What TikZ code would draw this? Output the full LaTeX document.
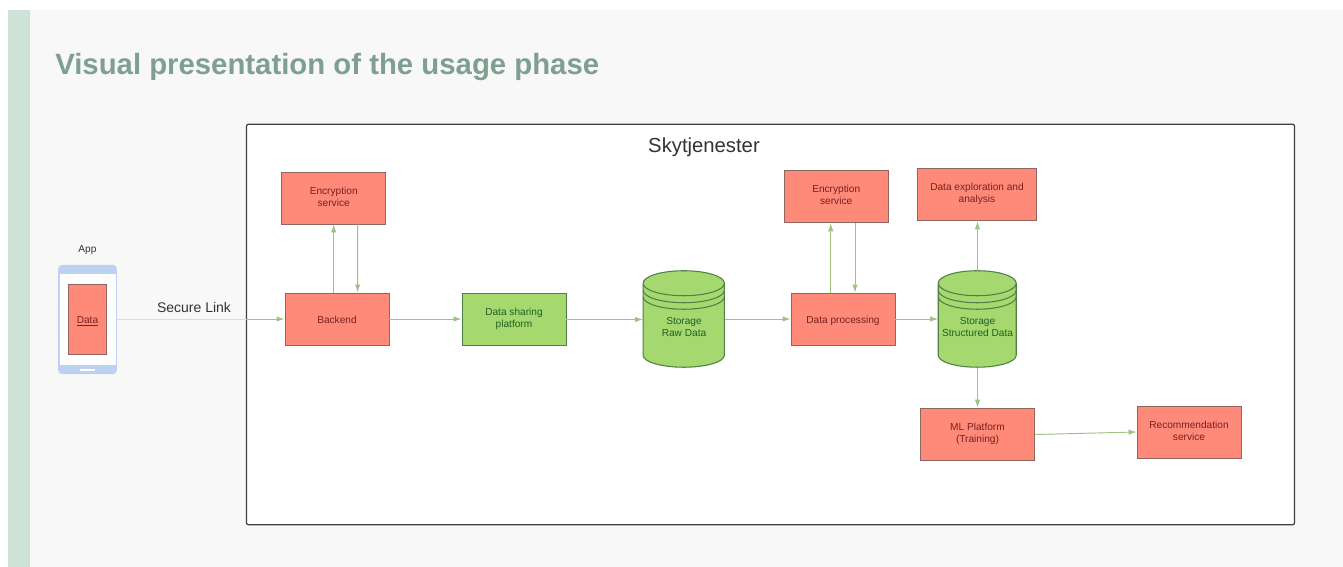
\documentclass[tikz,border=0pt]{standalone}
\usepackage{fontspec}
\setmainfont{Liberation Sans}
\usepackage{tikz}
\usetikzlibrary{arrows.meta}
\definecolor{barcol}{HTML}{CFE2D8}
\definecolor{panelcol}{HTML}{F8F8F8}
\definecolor{titlecol}{HTML}{7F9F91}
\definecolor{redfill}{HTML}{FF8A7A}
\definecolor{redline}{HTML}{8E6660}
\definecolor{redtext}{HTML}{7A1E1E}
\definecolor{greenfill}{HTML}{A5D86F}
\definecolor{greenline}{HTML}{4F8047}
\definecolor{greentext}{HTML}{1F5F24}
\definecolor{flowcol}{HTML}{9BC382}
\definecolor{flowfaint}{HTML}{D3E5C8}
\definecolor{phonecol}{HTML}{BDD2F0}
\tikzset{
  boxtext/.style={font=\fontsize{7.6}{9}\selectfont,align=center,inner sep=0pt,
    execute at begin node={\rule{0pt}{9pt}},execute at end node={\rule[-2.1pt]{0pt}{0pt}}},
  twoline/.style={execute at begin node={\vspace*{3pt}}},
  redbox/.style={boxtext,draw=redline,fill=redfill,line width=0.7pt,text=redtext},
  greenbox/.style={boxtext,draw=greenline,fill=greenfill,line width=0.7pt,text=greentext},
  storagedb/.style={inner sep=0pt,minimum width=#1,minimum height=72pt},
  storagetext/.style={text=greentext,font=\fontsize{7.6}{9}\selectfont,align=center},
  flow/.style={draw=flowcol,line width=0.7pt,-{Latex[length=6pt,width=4pt]}},
  plaintext/.style={text=black!80,inner sep=0pt}
}
% one storage drum: body, then the two rings under the lid
\newcommand{\drawstorage}[2]{
\filldraw[draw=greenline,fill=greenfill,line width=0.8pt] (#1.north west) ++(0,12.5) coordinate (#1lid)
  arc[start angle=180,end angle=0,x radius=#2,y radius=12.5]
  arc[start angle=0,end angle=-180,x radius=#2,y radius=12.5]
  -- ++(0,72) arc[start angle=180,end angle=0,x radius=#2,y radius=12] -- ++(0,-72);
\draw[greenline,line width=0.8pt] (#1lid) ++(0,7) arc[start angle=180,end angle=0,x radius=#2,y radius=12.5];
\draw[greenline,line width=0.8pt] (#1lid) ++(0,13.5) arc[start angle=180,end angle=0,x radius=#2,y radius=12.5];
}
\begin{document}
\begin{tikzpicture}[x=0.75pt,y=-0.75pt]
\useasboundingbox (0,0) rectangle (1343,567);
\fill[white] (0,0) rectangle (1343,567);
\fill[panelcol] (30,10) rectangle (1343,567);
\fill[barcol] (8,10) rectangle (30,567);
\node[anchor=base west,text=titlecol,inner sep=0pt,font=\fontsize{22}{26}\bfseries\selectfont] (title) at (55,75) {Visual presentation of the usage phase};
% cloud frame
\node[draw=black!75,fill=white,line width=0.9pt,rounded corners=1.5pt,minimum width=786pt,minimum height=300.5pt,inner sep=0pt] (cloud) at (770.5,324.5) {};
\node[plaintext,font=\fontsize{15.2}{18}\selectfont] (cloudname) at (704,147) {Skytjenester};
% phone
\node[draw=none,fill=phonecol,rounded corners=3pt,minimum width=44pt,minimum height=82pt,inner sep=0pt] (phone) at (87.5,319.5) {};
\node[fill=white,minimum width=42pt,minimum height=68pt,inner sep=0pt] (screen) at (87.5,319.5) {};
\node[fill=white,minimum width=11pt,minimum height=1.5pt,inner sep=0pt] (homekey) at (87.5,370) {};
\node[redbox,minimum width=29pt,minimum height=52.5pt] (data) at (87.5,319) {\underline{Data}};
\node[plaintext,font=\fontsize{7.6}{9}\selectfont] (app) at (87.5,250) {App};
\node[plaintext,font=\fontsize{10.5}{13}\selectfont] (link) at (194,307) {Secure Link};
% services
\node[redbox,twoline,minimum width=78pt,minimum height=39pt] (crypta) at (333.7,198) {Encryption\\service};
\node[redbox,minimum width=78pt,minimum height=39pt] (backend) at (337,319) {Backend};
\node[greenbox,twoline,minimum width=78pt,minimum height=39.5pt] (sharing) at (514,319.5) {Data sharing\\platform};
\node[storagedb=61pt] (rawdb) at (684,319) {};
\node[redbox,minimum width=78pt,minimum height=39pt] (process) at (843,319) {Data processing};
\node[redbox,twoline,minimum width=78pt,minimum height=39.5pt] (cryptb) at (836.2,196.5) {Encryption\\service};
\node[redbox,twoline,minimum width=89pt,minimum height=39.5pt] (explore) at (977,194.5) {Data exploration and\\analysis};
\node[storagedb=58.5pt] (structdb) at (977.5,319) {};
\node[redbox,twoline,minimum width=86pt,minimum height=39.5pt] (mlplat) at (977.5,434.5) {ML Platform\\(Training)};
\node[redbox,twoline,minimum width=78pt,minimum height=39pt] (recommend) at (1189,432) {Recommendation\\service};
\drawstorage{rawdb}{40.67}
\drawstorage{structdb}{39}
\node[storagetext] (rawname) at (684,327) {Storage\\Raw Data};
\node[storagetext] (structname) at (977.5,327) {Storage\\Structured Data};
% connectors
\draw[draw=flowfaint,line width=0.7pt] (phone.east |- backend.west) -- (cloud.west |- backend.west);
\draw[flow] (cloud.west |- backend.west) -- (backend.west);
\draw[flow] (crypta.south |- backend.north) -- (crypta.south);
\draw[flow] ([xshift=18pt]crypta.south) -- ([xshift=15.5pt]backend.north);
\draw[flow] (backend.east) -- (sharing.west |- backend.east);
\draw[flow] (sharing.east) -- (rawdb.west |- sharing.east);
\draw[flow] (rawdb.east |- process.west) -- (process.west);
\draw[flow] ([xshift=-4.1pt]cryptb.south |- process.north) -- ([xshift=-4.1pt]cryptb.south);
\draw[flow] ([xshift=14.1pt]cryptb.south) -- ([xshift=9pt]process.north);
\draw[flow] (process.east) -- (structdb.west |- process.east);
\draw[flow] (structdb.north) -- (explore.south -| structdb.north);
\draw[flow] (structdb.south) -- (mlplat.north -| structdb.south);
\draw[flow] (mlplat.east) -- (recommend.west);
\end{tikzpicture}
\end{document}
